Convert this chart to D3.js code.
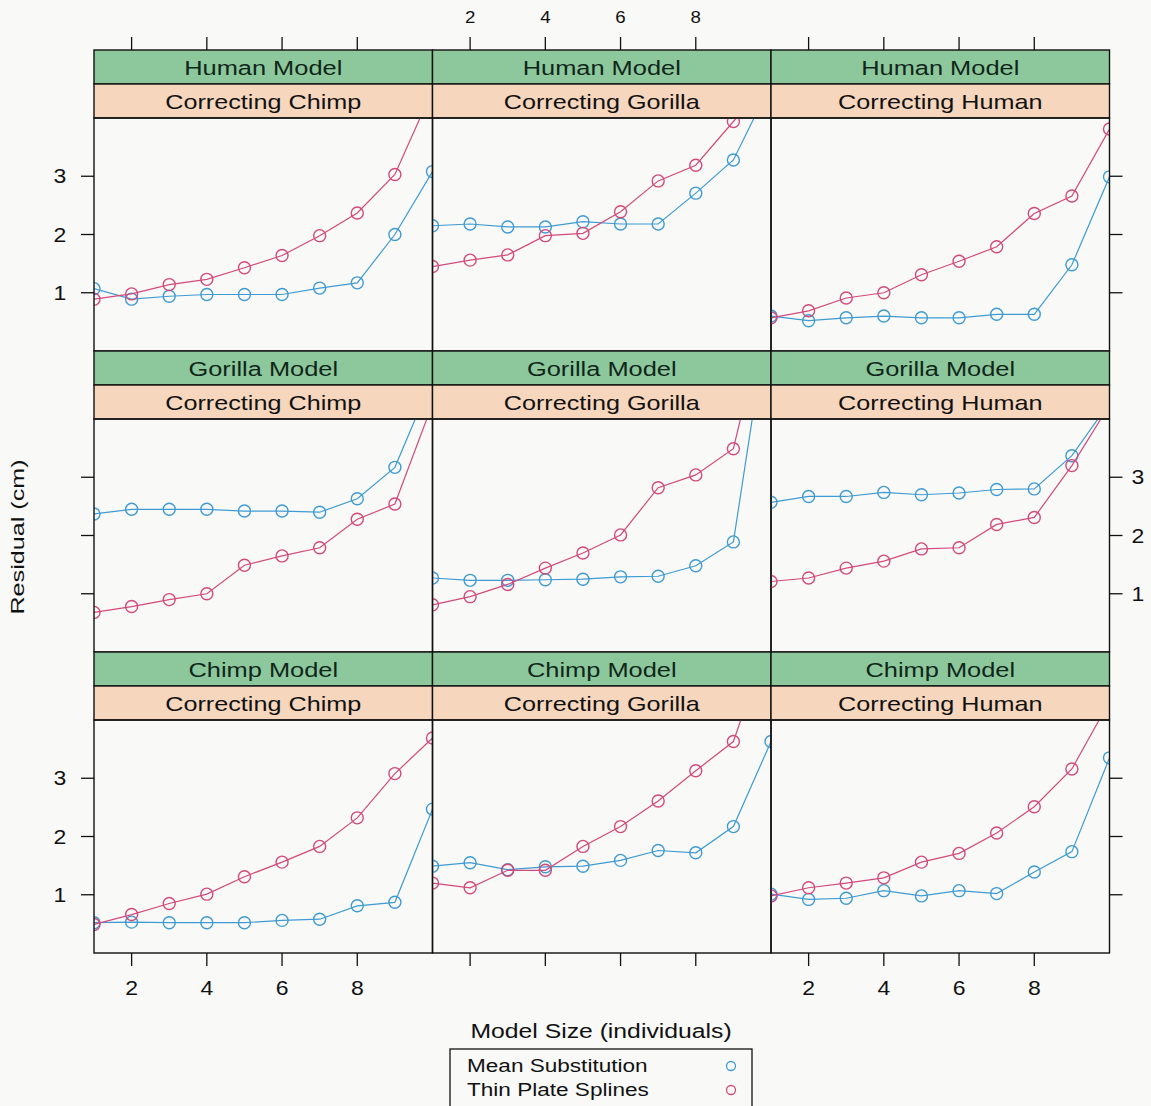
<!DOCTYPE html>
<html>
<head>
<meta charset="utf-8">
<script src="https://cdnjs.cloudflare.com/ajax/libs/d3/7.8.5/d3.min.js"></script>
<style>
  html, body { margin: 0; padding: 0; background: #f9f9f8; }
  svg { display: block; font-family: "Liberation Sans", Arial, Helvetica, sans-serif; }
</style>
</head>
<body>
<svg id="chart" width="1151" height="1106"></svg>
<script>
// ---------------- data ----------------
const modelSizes = [1, 2, 3, 4, 5, 6, 7, 8, 9, 10];
const modelNames = ["Human Model", "Gorilla Model", "Chimp Model"];          // rows, top to bottom
const correctingNames = ["Correcting Chimp", "Correcting Gorilla", "Correcting Human"]; // columns
const seriesNames = ["Mean Substitution", "Thin Plate Splines"];
const xTicks = [2, 4, 6, 8];
const yTicks = [1, 2, 3];

// Mean Substitution (MS) and Thin Plate Splines (TPS) residuals
const msHumanChimp    = [1.07, 0.89, 0.94, 0.97, 0.97, 0.97, 1.08, 1.17, 2.00, 3.08];
const tpsHumanChimp   = [0.89, 0.98, 1.14, 1.23, 1.43, 1.64, 1.98, 2.37, 3.03, 4.48];
const msHumanGorilla  = [2.15, 2.18, 2.13, 2.13, 2.22, 2.18, 2.18, 2.71, 3.28, 4.59];
const tpsHumanGorilla = [1.45, 1.56, 1.65, 1.98, 2.02, 2.39, 2.92, 3.19, 3.94, 4.70];
const msHumanHuman    = [0.60, 0.52, 0.57, 0.60, 0.57, 0.57, 0.63, 0.63, 1.48, 2.99];
const tpsHumanHuman   = [0.57, 0.69, 0.91, 1.00, 1.31, 1.54, 1.79, 2.36, 2.66, 3.81];

const msGorillaChimp    = [2.37, 2.45, 2.45, 2.45, 2.42, 2.42, 2.40, 2.63, 3.17, 4.70];
const tpsGorillaChimp   = [0.68, 0.78, 0.90, 1.00, 1.49, 1.65, 1.79, 2.28, 2.54, 4.26];
const msGorillaGorilla  = [1.27, 1.23, 1.23, 1.24, 1.25, 1.29, 1.30, 1.48, 1.89, 6.10];
const tpsGorillaGorilla = [0.81, 0.95, 1.16, 1.44, 1.70, 2.01, 2.82, 3.04, 3.49, 6.20];
const msGorillaHuman    = [2.57, 2.67, 2.67, 2.74, 2.70, 2.73, 2.79, 2.80, 3.37, 4.28];
const tpsGorillaHuman   = [1.21, 1.27, 1.44, 1.56, 1.77, 1.79, 2.19, 2.31, 3.20, 4.24];

const msChimpChimp    = [0.52, 0.53, 0.52, 0.52, 0.52, 0.56, 0.58, 0.81, 0.87, 2.47];
const tpsChimpChimp   = [0.49, 0.66, 0.85, 1.01, 1.31, 1.56, 1.83, 2.32, 3.08, 3.69];
const msChimpGorilla  = [1.49, 1.55, 1.43, 1.48, 1.49, 1.59, 1.76, 1.72, 2.17, 3.63];
const tpsChimpGorilla = [1.20, 1.12, 1.42, 1.42, 1.83, 2.17, 2.61, 3.13, 3.63, 5.50];
const msChimpHuman    = [1.01, 0.92, 0.94, 1.07, 0.98, 1.07, 1.02, 1.39, 1.74, 3.35];
const tpsChimpHuman   = [0.98, 1.12, 1.20, 1.29, 1.56, 1.71, 2.06, 2.51, 3.16, 4.32];

const panelTable = [
  [[msHumanChimp, tpsHumanChimp], [msHumanGorilla, tpsHumanGorilla], [msHumanHuman, tpsHumanHuman]],
  [[msGorillaChimp, tpsGorillaChimp], [msGorillaGorilla, tpsGorillaGorilla], [msGorillaHuman, tpsGorillaHuman]],
  [[msChimpChimp, tpsChimpChimp], [msChimpGorilla, tpsChimpGorilla], [msChimpHuman, tpsChimpHuman]]
];

// ---------------- layout ----------------
const colors = ["#3f9bd2", "#d24a7c"];
const greenStrip = "#8dc89c", tanStrip = "#f6d6bd";
const colX = [94, 432.5, 771];
const colW = 338.5;
const rowTop = [50, 351, 652];
const stripH = 34;
const panelH = 233;
const tickLen = 13;

const svg = d3.select("#chart");
const defs = svg.append("defs");

function stretchedText(g, x, y, str, opts) {
  const o = Object.assign({size: 19, anchor: "middle", sx: 1.25, rotate: 0, fill: "#111"}, opts || {});
  const t = g.append("g").attr("transform", `translate(${x},${y}) rotate(${o.rotate}) scale(${o.sx},1)`);
  t.append("text").attr("text-anchor", o.anchor).attr("font-size", o.size).attr("fill", o.fill).text(str);
  return t;
}

const line = d3.line();

panelTable.forEach((rowData, r) => {
  rowData.forEach((pair, c) => {
    const x0 = colX[c];
    const pTop = rowTop[r] + 2 * stripH;
    const x = d3.scaleLinear().domain([1, 10]).range([x0, x0 + colW]);
    const y = d3.scaleLinear().domain([0, 4]).range([pTop + panelH, pTop]);

    const g = svg.append("g");
    // strips
    g.append("rect").attr("x", x0).attr("y", rowTop[r]).attr("width", colW).attr("height", stripH)
      .attr("fill", greenStrip).attr("stroke", "#111").attr("stroke-width", 1.4);
    g.append("rect").attr("x", x0).attr("y", rowTop[r] + stripH).attr("width", colW).attr("height", stripH)
      .attr("fill", tanStrip).attr("stroke", "#111").attr("stroke-width", 1.4);
    stretchedText(g, x0 + colW / 2, rowTop[r] + stripH / 2 + 7.5, modelNames[r], {size: 20, sx: 1.27, fill: "#10261a"});
    stretchedText(g, x0 + colW / 2, rowTop[r] + stripH * 1.5 + 7.5, correctingNames[c], {size: 20, sx: 1.26});

    // clip
    const cid = `clip-${r}-${c}`;
    defs.append("clipPath").attr("id", cid).append("rect")
      .attr("x", x0).attr("y", pTop).attr("width", colW).attr("height", panelH);

    const inner = g.append("g").attr("clip-path", `url(#${cid})`);
    pair.forEach((vals, s) => {
      const pts = modelSizes.map((m, i) => [x(m), y(vals[i])]);
      inner.append("path").attr("d", line(pts)).attr("fill", "none")
        .attr("stroke", colors[s]).attr("stroke-width", 1.2);
      inner.selectAll(null).data(pts).enter().append("circle")
        .attr("cx", d => d[0]).attr("cy", d => d[1]).attr("r", 6)
        .attr("fill", "none").attr("stroke", colors[s]).attr("stroke-width", 1.4);
    });

    // panel border
    g.append("rect").attr("x", x0).attr("y", pTop).attr("width", colW).attr("height", panelH)
      .attr("fill", "none").attr("stroke", "#111").attr("stroke-width", 1.4);

    // left axis (col 0)
    if (c === 0) {
      yTicks.forEach(t => {
        g.append("line").attr("x1", x0 - tickLen).attr("x2", x0).attr("y1", y(t)).attr("y2", y(t))
          .attr("stroke", "#111").attr("stroke-width", 1.3);
        if (r !== 1) stretchedText(g, 60, y(t) + 7, String(t), {size: 20, sx: 1.15});
      });
    }
    // right axis (col 2)
    if (c === 2) {
      yTicks.forEach(t => {
        g.append("line").attr("x1", x0 + colW).attr("x2", x0 + colW + tickLen).attr("y1", y(t)).attr("y2", y(t))
          .attr("stroke", "#111").attr("stroke-width", 1.3);
        if (r === 1) stretchedText(g, 1138, y(t) + 7, String(t), {size: 20, sx: 1.15});
      });
    }
    // top axis (row 0) above strips
    if (r === 0) {
      xTicks.forEach(t => {
        g.append("line").attr("x1", x(t)).attr("x2", x(t)).attr("y1", rowTop[0] - tickLen).attr("y2", rowTop[0])
          .attr("stroke", "#111").attr("stroke-width", 1.3);
        if (c === 1) stretchedText(g, x(t), 23, String(t), {size: 17, sx: 1.1});
      });
    }
    // bottom axis (row 2)
    if (r === 2) {
      const b = pTop + panelH;
      xTicks.forEach(t => {
        g.append("line").attr("x1", x(t)).attr("x2", x(t)).attr("y1", b).attr("y2", b + tickLen)
          .attr("stroke", "#111").attr("stroke-width", 1.3);
        if (c !== 1) stretchedText(g, x(t), b + 42, String(t), {size: 20, sx: 1.15});
      });
    }
  });
});

// axis titles
stretchedText(svg, 601, 1038, "Model Size (individuals)", {size: 19.5, sx: 1.27});
stretchedText(svg, 24, 537, "Residual (cm)", {size: 18.5, sx: 1.36, rotate: -90});

// legend
const lg = svg.append("g");
lg.append("rect").attr("x", 450).attr("y", 1049).attr("width", 302).attr("height", 70)
  .attr("fill", "none").attr("stroke", "#111").attr("stroke-width", 1.3);
seriesNames.forEach((name, i) => {
  const yy = 1072 + i * 24;
  stretchedText(lg, 467, yy, name, {size: 18.5, sx: 1.22, anchor: "start"});
  lg.append("circle").attr("cx", 731).attr("cy", yy - 6).attr("r", 4.5)
    .attr("fill", "none").attr("stroke", colors[i]).attr("stroke-width", 1.3);
});
</script>
</body>
</html>
